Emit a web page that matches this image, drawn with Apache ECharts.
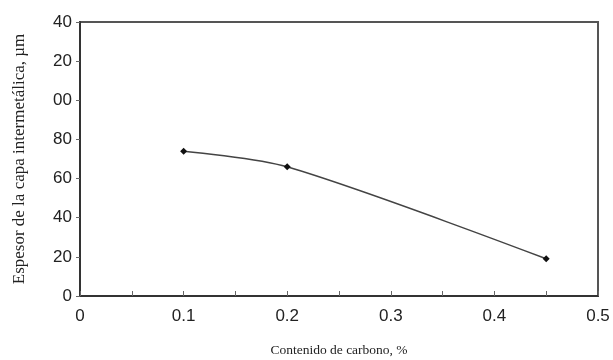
<!DOCTYPE html>
<html>
<head>
<meta charset="utf-8">
<script src="https://cdn.jsdelivr.net/npm/echarts@6/dist/echarts.min.js"></script>
<style>
  html, body { margin: 0; padding: 0; background: #fff; }
  #chart { width: 613px; height: 360px; }
</style>
</head>
<body>
<div id="chart"></div>
<script>
  // contenido de carbono (%) y espesor de capa (µm)
  let carbono = [0.1, 0.2, 0.45]
  let espesor = [74, 66, 19]
  // etiquetas del eje y tal como salen en la figura (recortadas)
  let yTickLabels = ['0', '20', '40', '60', '80', '00', '20', '40']
  let xTickLabels = ['0', '0.1', '0.2', '0.3', '0.4', '0.5']

  let myChart = echarts.init(document.getElementById('chart'))
  let option = {
    animation: false,
    grid: {
      left: 80,
      right: 15,
      top: 22,
      bottom: 64,
      outerBoundsMode: 'none',
      containLabel: false,
      show: true,
      borderColor: '#555',
      borderWidth: 2
    },
    xAxis: {
      type: 'value',
      min: 0,
      max: 0.5,
      interval: 0.1,
      name: 'Contenido de carbono, %',
      nameLocation: 'middle',
      nameGap: 47,
      nameTextStyle: { fontFamily: 'Liberation Serif', fontSize: 13.5, color: '#222' },
      axisLine: { lineStyle: { color: '#333', width: 2 } },
      axisTick: { inside: true, length: 5, lineStyle: { color: '#666' } },
      minorTick: { show: true, splitNumber: 2, length: 5, lineStyle: { color: '#666' } },
      splitLine: { show: false },
      axisLabel: {
        fontFamily: 'Liberation Sans',
        fontSize: 17,
        color: '#222',
        margin: 12,
        formatter: function (v) {
          return xTickLabels[Math.round(v * 10)]
        }
      }
    },
    yAxis: {
      type: 'value',
      min: 0,
      max: 140,
      interval: 20,
      name: 'Espesor de la capa intermetálica, µm',
      nameLocation: 'middle',
      nameGap: 52,
      nameTextStyle: { fontFamily: 'Liberation Serif', fontSize: 17, color: '#222' },
      axisLine: { lineStyle: { color: '#333', width: 2 } },
      axisTick: { length: 4, lineStyle: { color: '#666' } },
      splitLine: { show: false },
      axisLabel: {
        fontFamily: 'Liberation Sans',
        fontSize: 17,
        color: '#222',
        margin: 8,
        formatter: function (v) {
          return yTickLabels[Math.round(v / 20)]
        }
      }
    },
    series: [{
      type: 'line',
      smooth: 0.3,
      data: carbono.map(function (c, i) { return [c, espesor[i]] }),
      symbol: 'diamond',
      symbolSize: 7,
      itemStyle: { color: '#111' },
      lineStyle: { color: '#444', width: 1.5 }
    }]
  }
  myChart.setOption(option)
</script>
</body>
</html>
